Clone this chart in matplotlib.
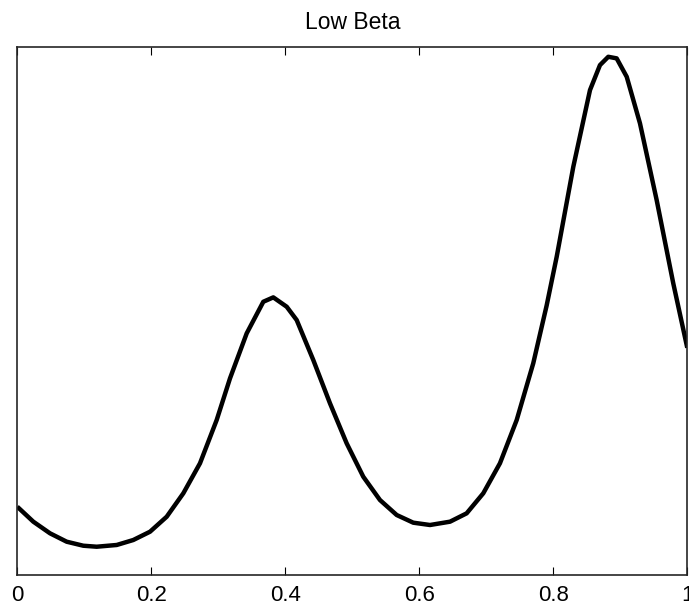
import numpy as np
import matplotlib.pyplot as plt

plt.rcParams['font.family'] = ['Liberation Sans', 'DejaVu Sans']

# values
x = [0.000, 0.0239, 0.0488, 0.0737, 0.0985, 0.1185, 0.1484, 0.1731, 0.1981, 0.2230,
     0.2478, 0.2727, 0.2976, 0.3175, 0.3424, 0.3672, 0.3821, 0.4021, 0.4170, 0.4418,
     0.4667, 0.4916, 0.5164, 0.5413, 0.5663, 0.5910, 0.6160, 0.6459, 0.6707, 0.6955,
     0.7204, 0.7454, 0.7701, 0.7901, 0.8051, 0.8299, 0.8548, 0.8697, 0.8821,
     0.8946, 0.9096, 0.9294, 0.9543, 0.9791, 1.000]
y = [0.1292, 0.1009, 0.0789, 0.0630, 0.0554, 0.0535, 0.0568, 0.0662, 0.0819, 0.1103,
     0.1546, 0.2114, 0.2933, 0.3722, 0.4573, 0.5171, 0.5254, 0.5077, 0.4825, 0.4068,
     0.3249, 0.2492, 0.1860, 0.1419, 0.1135, 0.0990, 0.0946, 0.1009, 0.1167, 0.1546,
     0.2114, 0.2933, 0.4006, 0.5100, 0.6023, 0.7726, 0.9177, 0.9650, 0.9807,
     0.9777, 0.9429, 0.8547, 0.7096, 0.5519, 0.4300]
xticks = [0, 0.2, 0.4, 0.6, 0.8, 1]
xticklabels = ['0', '0.2', '0.4', '0.6', '0.8', '1']

fig = plt.figure(figsize=(6.89, 6.05), dpi=100)
ax = fig.add_axes([0.0251, 0.0496, 0.9724, 0.8734])
ax.plot(x, y, color='black', linewidth=3.2, solid_joinstyle='round',
        solid_capstyle='butt')
ax.set_xlim(0, 1)
ax.set_ylim(0, 1)
ax.set_xticks(xticks)
ax.set_xticklabels(xticklabels, fontsize=16)
ax.set_yticks([])
ax.tick_params(axis='x', direction='in', length=6, top=True, pad=7)
for s in ax.spines.values():
    s.set_linewidth(1.2)
    s.set_color('#262626')
ax.set_title('Low Beta', fontsize=16.5, pad=13)

plt.savefig('out.png', dpi=100)
